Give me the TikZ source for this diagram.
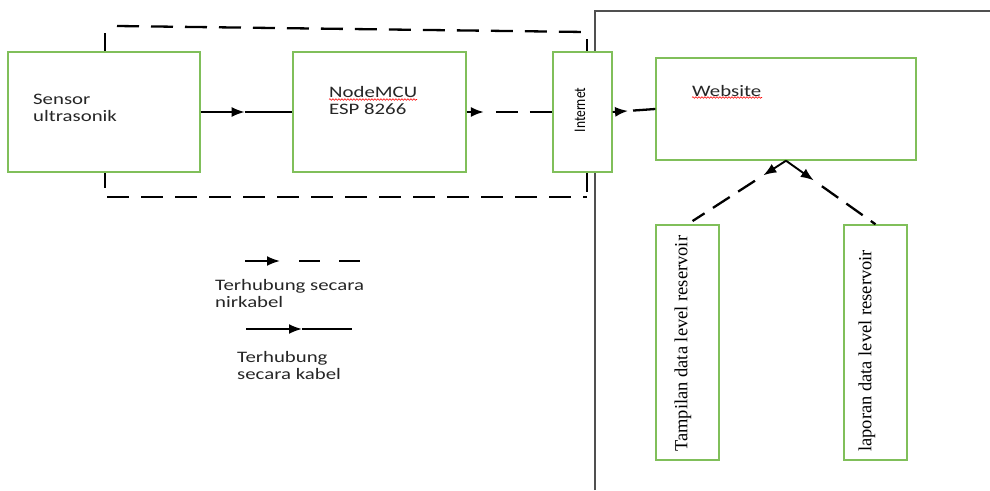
\documentclass[tikz,border=0pt]{standalone}
\usepackage{fontspec}
\usetikzlibrary{arrows.meta, calc, decorations.pathmorphing}
\newfontfamily\calib{Carlito}[FakeStretch=1.3]
\newfontfamily\calibr{Carlito}
\newfontfamily\tnr{Liberation Serif}
\definecolor{boxgreen}{HTML}{80BF5A}
\definecolor{framegray}{HTML}{505050}

\begin{document}
\begin{tikzpicture}[x=1pt, y=-1pt]
\tikzset{
  box/.style={draw=boxgreen, line width=1.4pt, fill=white, inner sep=0pt},
  txt/.style={inner sep=0pt, font=\calib\fontsize{16}{17}\selectfont, align=left, anchor=base west, text=black!85},
  vtxt/.style={inner sep=0pt, rotate=90},
  wire/.style={line width=1.9pt, -{Latex[length=13pt,width=10pt]}},
  plainwire/.style={line width=1.5pt},
  air/.style={line width=2.3pt, dash pattern=on 22pt off 12pt},
  wavy/.style={red, line width=0.6pt, decorate, decoration={snake, segment length=3pt, amplitude=0.8pt}}
}
\useasboundingbox (0,0) rectangle (990,490);
% enclosure and frame
\draw[air] (117,26) -- (585,32);
\draw[air] (107,197) -- (587,197);
\draw[line width=2.3pt] (105,33) -- (105,188);
\draw[line width=2.3pt] (587,39) -- (587,192);
\draw[framegray, line width=1.3pt] (595,490) -- (595,11) -- (990,11);
% boxes
\node[box, minimum width=192pt, minimum height=120pt] (sensor) at (104,112) {};
\node[box, minimum width=173pt, minimum height=120pt] (nodemcu) at (379.5,112) {};
\node[box, minimum width=59pt, minimum height=120pt] (internet) at (582.5,112) {};
\node[box, minimum width=260pt, minimum height=102pt] (website) at (786,109) {};
\node[box, minimum width=63pt, minimum height=235pt] (tampilan) at (687.5,342.5) {};
\node[box, minimum width=63pt, minimum height=235pt] (laporan) at (875.5,342.5) {};
% texts
\node[txt] (sensortxt) at (33,121) {Sensor\\ultrasonik};
\node[txt] (mcutxt) at (329,114) {NodeMCU\\ESP 8266};
\node[txt] (webtxt) at (692,96) {Website};
\node[vtxt, font=\calibr\fontsize{13.5}{14}\selectfont] (nettxt) at (580,110) {\scalebox{1}[1.2]{Internet}};
\node[vtxt, anchor=west, font=\tnr\fontsize{18.5}{20}\selectfont] (tampiltxt) at (683,452) {Tampilan data level reservoir};
\node[vtxt, anchor=west, font=\tnr\fontsize{18.5}{20}\selectfont] (laportxt) at (867,452) {laporan data level reservoir};
\draw[wavy] (329,99.5) -- (417,99.5);
\draw[wavy] (692,97.5) -- (762,97.5);
% connectors
\coordinate (s1) at ($(sensor.east)!0.48!(nodemcu.west)$);
\draw[wire] (sensor.east) -- (s1);
\draw[plainwire] (s1) -- (nodemcu.west);
\coordinate (m1) at ($(nodemcu.east)!0.2!(internet.west)$);
\draw[wire] (nodemcu.east) -- (m1);
\draw[air, dash phase=22pt] (m1) -- (internet.west);
\coordinate (i1) at ($(internet.east)!0.36!(website.west)$);
\draw[wire] (internet.east) -- (i1);
\draw[air, dash pattern=on 23pt off 5pt, dash phase=23pt] (i1) -- (website.west);
\coordinate (w1) at ($(website.south)!0.23!(tampilan.north)$);
\draw[wire] (website.south) -- (w1);
\draw[air, dash pattern=on 20pt off 10pt, dash phase=20pt, shorten >=6pt] (w1) -- (tampilan.north);
\coordinate (w2) at ($(website.south)!0.31!(laporan.north)$);
\draw[wire] (website.south) -- (w2);
\draw[air, dash pattern=on 20pt off 10pt, dash phase=20pt] (w2) -- (laporan.north);
% legend
\coordinate (la) at (245,261);
\coordinate (lb) at (280,261);
\coordinate (lc) at (360,261);
\draw[wire] (la) -- (lb);
\draw[air, dash pattern=on 21pt off 19pt, dash phase=21pt] (lb) -- (lc);
\node[txt] (leg1txt) at (215,307) {Terhubung secara\\nirkabel};
\coordinate (ld) at (246,329);
\coordinate (le) at (302,329);
\coordinate (lf) at (352,329);
\draw[wire] (ld) -- (le);
\draw[plainwire] (le) -- (lf);
\node[txt] (leg2txt) at (237,379) {Terhubung\\secara kabel};
\end{tikzpicture}
\end{document}
